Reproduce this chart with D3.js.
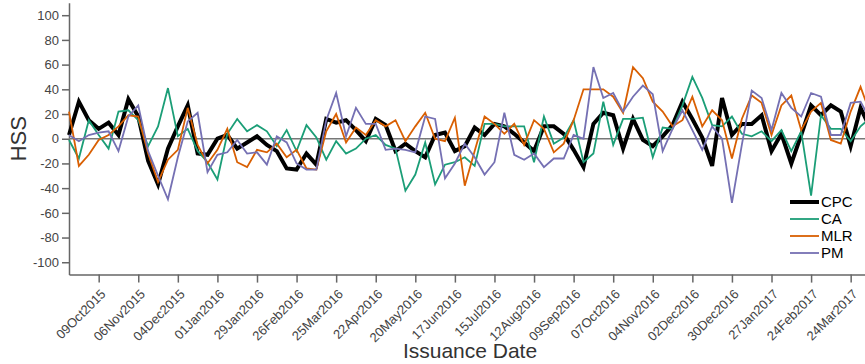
<!DOCTYPE html>
<html>
<head>
<meta charset="utf-8">
<script src="https://cdn.jsdelivr.net/npm/d3@7"></script>
<style>
  html, body { margin: 0; padding: 0; background: #fff; }
  svg { display: block; font-family: "Liberation Sans", Arial, Helvetica, sans-serif; }
</style>
</head>
<body>
<svg id="chart" width="865" height="364"></svg>
<script>
// Weekly forecast issuance dates, starting 18 Sep 2015
const startDate = "2015-09-18";
const nWeeks = 82;

// Heidke skill score per issuance
const cpc = [3, 30, 15, 8, 13, 3, 32, 18, -18, -37, -8, 10, 27, -12, -13, 0, 3, -8, -3, 2,
  -5, -10, -24, -25, -12, -21, 16, 13, 15, 7, -2, 16, 11, -10, -4, -10, -15, 3, 5, -10,
  -6, 9, 3, 12, 10, 4, -3, -10, 10, 10, 4, -9, -23, 12, 21, 19, -8, 16, -1, -6,
  2, 11, 30, 16, 1, -22, 33, 3, 12, 12, 19, -10, 4, -20, 3, 27, 19, 27, 22, -6, 25, 8];
const ca = [-1, -16, 15, 3, -8, 22, 23, 15, -6, 10, 41, 2, 8, -10, -19, -33, 4, 16, 6, 11,
  6, -6, 7, -10, 11, 1, -17, -2, -12, -8, 0, 3, -5, -8, -42, -29, -3, -37, -21, -19,
  -15, -22, 12, 12, 10, 10, 10, -19, 18, -4, 1, 15, -19, -12, 30, -5, 16, 16, 17, -15,
  9, 8, 27, 50, 33, 11, 10, 18, 4, 2, 6, -2, 7, -10, 6, -46, 19, 8, 8, -2, 10, 17];
const mlr = [22, -22, -13, -1, 3, 10, 19, 18, -12, -35, -17, -9, 25, -5, -20, -9, 8, -19, -23, -9,
  -11, -4, -15, -9, -24, -25, 6, 20, -3, 9, 3, 15, 10, 15, -2, 10, 21, 0, -2, 17,
  -38, -10, 18, 12, 4, 12, -5, 15, 8, -11, -4, 15, 40, 40, 40, 34, 21, 58, 49, 30,
  22, 10, 15, 34, 10, 23, 15, -16, 16, 35, 29, 3, 27, 35, 7, 22, 29, -1, -4, 22, 42, 20];
const pm = [3, -2, 3, 5, 6, -10, 18, 27, -10, -30, -49, -15, 14, 21, -27, -13, -11, -1, -12, -11,
  -21, 2, -3, -20, -25, -25, 15, 37, 2, 25, 12, 12, -9, -8, -9, -11, 18, 16, -32, -20,
  -4, -15, -29, -19, 21, -13, -17, -12, -23, -16, -16, 3, 0, 58, 33, 37, 22, 34, 43, 36,
  -10, 8, 23, 7, -9, 10, 0, -52, -5, 39, 33, 7, 37, 25, 18, 37, 34, 3, 3, 29, 30, 15];

const seriesNames = ["CPC", "CA", "MLR", "PM"];
const seriesValues = [cpc, ca, mlr, pm];
const seriesColors = ["#000000", "#1b9e77", "#d95f02", "#7570b3"];
const seriesWidths = [4, 1.8, 1.8, 1.8];

const yTicks = [-100, -80, -60, -40, -20, 0, 20, 40, 60, 80, 100];
const xTickStart = "2015-10-09";
const xTickCount = 20;

const parse = d3.utcParse("%Y-%m-%d");
const dayMs = 864e5;
const t0 = parse(startDate);
const dates = d3.range(nWeeks).map(i => new Date(t0.getTime() + i * 7 * dayMs));
const xTickDates = d3.range(xTickCount).map(i => new Date(parse(xTickStart).getTime() + i * 28 * dayMs));

const svg = d3.select("#chart");
const left = 69, pxPerDay = 1.4135;
const lastDate = dates[dates.length - 1];
const x = d3.scaleUtc()
  .domain([t0, lastDate])
  .range([left, left + (lastDate - t0) / dayMs * pxPerDay]);
const y = d3.scaleLinear().domain([-110, 110]).range([274.6, 2.85]);

const axisColor = "#666";
const textColor = "#444";

// x axis
const xAxis = svg.append("g")
  .attr("transform", `translate(0,${y(-110)})`)
  .call(d3.axisBottom(x).tickValues(xTickDates).tickFormat(d3.utcFormat("%d%b%Y")).tickSize(8).tickSizeOuter(0));
xAxis.select(".domain").attr("stroke", axisColor).attr("stroke-width", 1.5);
xAxis.selectAll(".tick line").attr("stroke", axisColor).attr("stroke-width", 1.5);
xAxis.selectAll(".tick text")
  .attr("fill", textColor)
  .attr("font-size", 13)
  .attr("x", 0).attr("y", 0).attr("dy", "0.35em")
  .attr("text-anchor", "end")
  .attr("transform", "translate(4,17) rotate(-45)");

// y axis (plain hyphen for negative labels)
const yAxis = svg.append("g")
  .attr("transform", `translate(${left},0)`)
  .call(d3.axisLeft(y).tickValues(yTicks).tickFormat(d => String(d)).tickSize(7).tickPadding(3).tickSizeOuter(0));
yAxis.select(".domain").attr("stroke", axisColor).attr("stroke-width", 1.5);
yAxis.selectAll(".tick line").attr("stroke", axisColor).attr("stroke-width", 1.5);
yAxis.selectAll(".tick text").attr("fill", textColor).attr("font-size", 13);

// zero reference line
svg.append("line")
  .attr("x1", left).attr("x2", 865)
  .attr("y1", y(0)).attr("y2", y(0))
  .attr("stroke", "#777").attr("stroke-width", 1.5);

// series lines
const line = d3.line().x((d, i) => x(dates[i])).y(d => y(d));
seriesValues.forEach((vals, k) => {
  svg.append("path")
    .datum(vals)
    .attr("fill", "none")
    .attr("stroke", seriesColors[k])
    .attr("stroke-width", seriesWidths[k])
    .attr("stroke-linejoin", "miter")
    .attr("d", line);
});

// axis titles
svg.append("text")
  .attr("transform", `translate(26,${y(0)}) rotate(-90)`)
  .attr("text-anchor", "middle")
  .attr("font-size", 22)
  .attr("fill", "#333")
  .text("HSS");
svg.append("text")
  .attr("x", 470).attr("y", 358)
  .attr("text-anchor", "middle")
  .attr("font-size", 21)
  .attr("fill", "#333")
  .text("Issuance Date");

// legend
const legend = svg.append("g").attr("transform", "translate(790,202)");
seriesNames.forEach((name, k) => {
  const g = legend.append("g").attr("transform", `translate(0,${k * 17})`);
  g.append("line").attr("x1", 0).attr("x2", 29).attr("y1", 0).attr("y2", 0)
    .attr("stroke", seriesColors[k]).attr("stroke-width", seriesWidths[k]);
  g.append("text").attr("x", 31).attr("y", 0).attr("dy", "0.35em")
    .attr("font-size", 15).attr("fill", "#000").text(name);
});
</script>
</body>
</html>
